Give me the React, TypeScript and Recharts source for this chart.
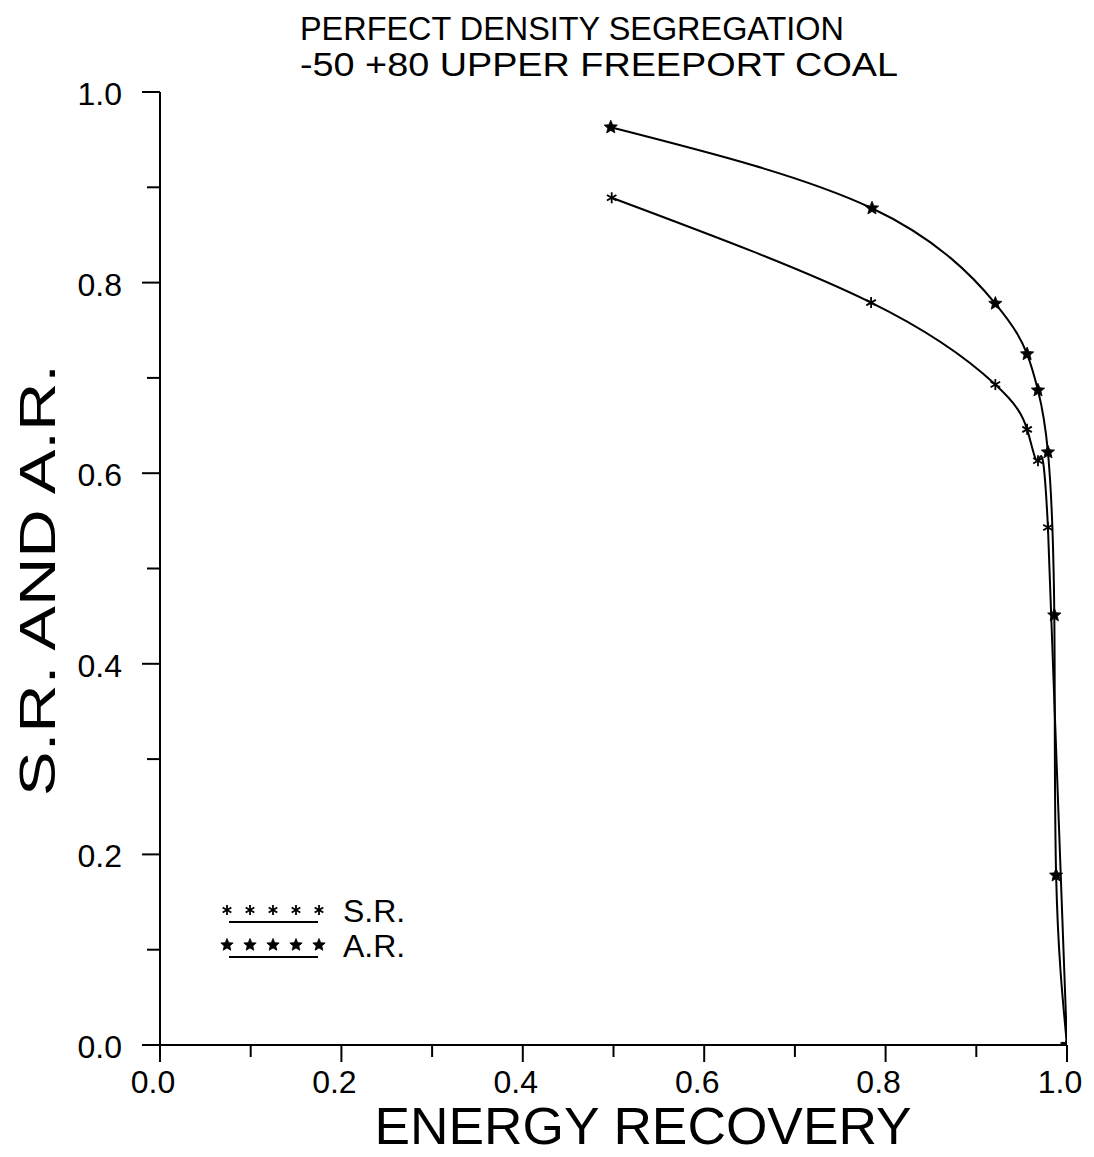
import { LineChart, Line, XAxis, YAxis, Legend } from "recharts"

// energy recovery (x) vs rejection (y)
const srRecovery = [0.498, 0.784, 0.921, 0.956, 0.968, 0.979, 1.0]
const srRejection = [0.889, 0.779, 0.693, 0.646, 0.613, 0.543, 0.0]
const arRecovery = [0.497, 0.785, 0.921, 0.956, 0.968, 0.979, 0.986, 0.988, 1.0]
const arRejection = [0.963, 0.878, 0.778, 0.725, 0.687, 0.622, 0.451, 0.178, 0.0]

const axisTicks = [0, 0.1, 0.2, 0.3, 0.4, 0.5, 0.6, 0.7, 0.8, 0.9, 1.0]
const titleLines = ["PERFECT DENSITY SEGREGATION", "-50 +80 UPPER FREEPORT COAL"]
const seriesNames = ["S.R.", "A.R."]

const FONT = "'Liberation Sans', Arial, sans-serif"

type Pt = { x: number; y: number }

function toPoints(xs: number[], ys: number[]): Pt[] {
  return xs.map((x, i) => ({ x, y: ys[i] }))
}

const srData = toPoints(srRecovery, srRejection)
const arData = toPoints(arRecovery, arRejection)

const isMajor = (v: number) => Math.round(v * 10) % 2 === 0

const Asterisk = ({ cx, cy, r = 5.5, w = 1.8 }: { cx: number; cy: number; r?: number; w?: number }) => (
  <g stroke="#000" strokeWidth={w}>
    {[90, 30, -30].map((a) => {
      const dx = Math.cos((a * Math.PI) / 180) * r
      const dy = Math.sin((a * Math.PI) / 180) * r
      return <line key={a} x1={cx - dx} y1={cy - dy} x2={cx + dx} y2={cy + dy} />
    })}
  </g>
)

const Star = ({ cx, cy, r = 7 }: { cx: number; cy: number; r?: number }) => {
  const pts: string[] = []
  for (let i = 0; i < 10; i++) {
    const rad = i % 2 === 0 ? r : r * 0.45
    const a = -Math.PI / 2 + (i * Math.PI) / 5
    pts.push(`${cx + Math.cos(a) * rad},${cy + Math.sin(a) * rad}`)
  }
  return <polygon points={pts.join(" ")} fill="#000" stroke="#000" strokeWidth={0.8} />
}

const srDot = (p: any) => <Asterisk key={`s${p.index}`} cx={p.cx} cy={p.cy} />
const arDot = (p: any) => <Star key={`a${p.index}`} cx={p.cx} cy={p.cy} />

const XTick = (p: any) => {
  const v = p.payload.value
  const len = isMajor(v) ? 17 : 12
  return (
    <g>
      <line x1={p.x} y1={p.y} x2={p.x} y2={p.y + len} stroke="#000" strokeWidth={2} />
      {isMajor(v) && (
        <text x={p.x - 7} y={p.y + 48} textAnchor="middle" fontSize={32} fontFamily={FONT} fill="#000">
          {v.toFixed(1)}
        </text>
      )}
    </g>
  )
}

const YTick = (p: any) => {
  const v = p.payload.value
  const len = isMajor(v) ? 18 : 13
  return (
    <g>
      <line x1={p.x} y1={p.y} x2={p.x - len} y2={p.y} stroke="#000" strokeWidth={2} />
      {isMajor(v) && (
        <text x={p.x - 38} y={p.y + 13} textAnchor="end" fontSize={32} fontFamily={FONT} fill="#000">
          {v.toFixed(1)}
        </text>
      )}
    </g>
  )
}

const LegendBox = () => (
  <svg width={220} height={90}>
    {seriesNames.map((name, row) => {
      const yStar = 22 + row * 35
      const yLine = 34 + row * 35
      return (
        <g key={name}>
          {[0, 1, 2, 3, 4].map((k) =>
            row === 0 ? (
              <Asterisk key={k} cx={9 + k * 23} cy={yStar} r={5} w={1.8} />
            ) : (
              <Star key={k} cx={9 + k * 23} cy={yStar} r={6.5} />
            )
          )}
          <line x1={11} y1={yLine} x2={100} y2={yLine} stroke="#000" strokeWidth={2} />
          <text x={125} y={yLine} fontSize={32} fontFamily={FONT} fill="#000">
            {name}
          </text>
        </g>
      )
    })}
  </svg>
)

const App = () => {
  return (
    <div style={{ position: "relative", width: 1078, height: 1149 }}>
      <LineChart width={1078} height={1149} margin={{ top: 84, right: 19, left: 0, bottom: 0 }}>
        <XAxis
          type="number"
          dataKey="x"
          domain={[0, 1]}
          ticks={axisTicks}
          interval={0}
          allowDataOverflow
          height={112}
          tickSize={0}
          tickMargin={0}
          tick={XTick}
          axisLine={{ stroke: "#000", strokeWidth: 2 }}
          label={{
            content: () => (
              <text x={635} y={1136} textAnchor="middle" fontSize={52} fontFamily={FONT} fill="#000" textLength={537} lengthAdjust="spacingAndGlyphs">
                ENERGY RECOVERY
              </text>
            ),
          }}
        />
        <YAxis
          type="number"
          dataKey="y"
          domain={[0, 1]}
          ticks={axisTicks}
          interval={0}
          allowDataOverflow
          width={152}
          tickSize={0}
          tickMargin={0}
          tick={YTick}
          axisLine={{ stroke: "#000", strokeWidth: 2 }}
          label={{
            content: () => (
              <text x={47} y={572} transform="rotate(-90 47 572)" textAnchor="middle" fontSize={50} fontFamily={FONT} fill="#000" textLength={432} lengthAdjust="spacingAndGlyphs">
                S.R. AND A.R.
              </text>
            ),
          }}
        />
        <Legend
          layout="horizontal"
          verticalAlign="middle"
          align="center"
          content={() => <LegendBox />}
          wrapperStyle={{ position: "absolute", left: 210, top: 880, width: 220, height: 90 }}
        />
        <Line data={srData} dataKey="y" name="S.R." type="natural" stroke="#000" strokeWidth={2} dot={srDot} isAnimationActive={false} />
        <Line data={arData} dataKey="y" name="A.R." type="natural" stroke="#000" strokeWidth={2} dot={arDot} isAnimationActive={false} />
      </LineChart>
      <svg width={1078} height={90} style={{ position: "absolute", left: 0, top: 0, pointerEvents: "none" }}>
        <text x={292} y={32} fontSize={33} fontFamily={FONT} fill="#000" textLength={544} lengthAdjust="spacingAndGlyphs">
          {titleLines[0]}
        </text>
        <text x={292} y={68} fontSize={33} fontFamily={FONT} fill="#000" textLength={598} lengthAdjust="spacingAndGlyphs">
          {titleLines[1]}
        </text>
      </svg>
    </div>
  )
}

export default App
